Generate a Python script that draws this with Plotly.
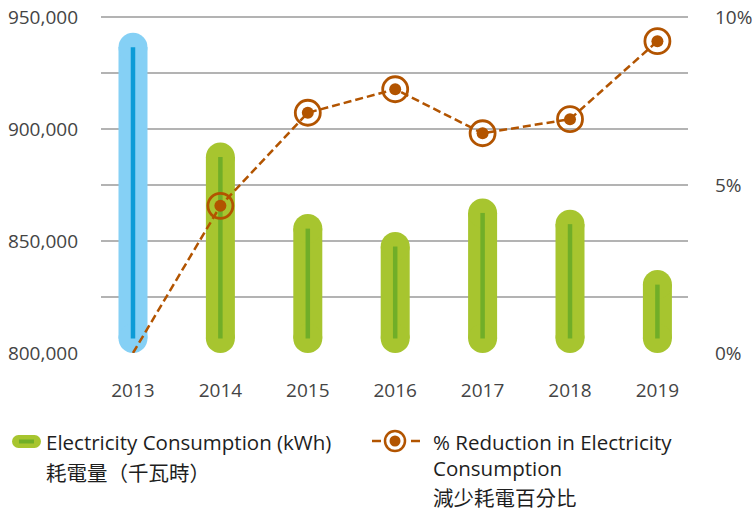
import plotly.graph_objects as go

# ---------------- data ----------------
years = ["2013", "2014", "2015", "2016", "2017", "2018", "2019"]
consumption_kwh = [943000, 894000, 862000, 854000, 869000, 864000, 837000]
reduction_pct = [0.0, 4.38, 7.15, 7.85, 6.54, 6.96, 9.28]
left_ticks = [800000, 850000, 900000, 950000]
right_ticks = [0, 5, 10]
right_tick_labels = ["0%", "5%", "10%"]

legend_bar_en = "Electricity Consumption (kWh)"
legend_bar_zh = "耗電量（千瓦時）"
legend_line_en1 = "% Reduction in Electricity"
legend_line_en2 = "Consumption"
legend_line_zh = "減少耗電百分比"

# ---------------- style ----------------
BLUE_OUT, BLUE_IN = "#85D0F5", "#0B9BD7"
GREEN_OUT, GREEN_IN = "#A7C52F", "#70AE28"
ORANGE = "#B25400"
GRID = "#B3B3B3"
TICK_COL = "#444444"
TXT = "#1e1e1e"
FONT = "Open Sans"
CJK = "Noto Sans CJK TC"

FIG_W, FIG_H = 754, 511
HEAD = 3                      # pixels of headroom above the 950,000 gridline
L, R, T, B = 101, 66, 17 - HEAD, 158
PW, PH = FIG_W - L - R, FIG_H - T - B
Y0, Y1 = 800000, 950000
PER_PX = (Y1 - Y0) / (PH - HEAD)
Y_TOP = Y1 + HEAD * PER_PX
BAR_W = 29
CAP = (BAR_W / 2) * PER_PX   # half-width of round cap in data units
P_TOP = 10 + HEAD * 10 / (PH - HEAD)

fig = go.Figure()

# rounded bars: thick line + circle caps
def bar_trace(idx, outer, inner):
    xs, ys = [], []
    for i in idx:
        xs += [years[i], years[i], None]
        ys += [Y0 + CAP, consumption_kwh[i] - CAP, None]
    fig.add_trace(go.Scatter(x=xs, y=ys, mode="lines+markers",
                             line=dict(color=outer, width=BAR_W),
                             marker=dict(color=outer, size=BAR_W, line=dict(width=0)),
                             hoverinfo="skip", showlegend=False))
    fig.add_trace(go.Scatter(x=xs, y=ys, mode="lines",
                             line=dict(color=inner, width=4.5),
                             hoverinfo="skip", showlegend=False))

bar_trace([0], BLUE_OUT, BLUE_IN)
bar_trace(list(range(1, len(years))), GREEN_OUT, GREEN_IN)

# dashed reduction line
fig.add_trace(go.Scatter(x=years, y=reduction_pct, yaxis="y2", mode="lines",
                         line=dict(color=ORANGE, width=2.5, dash="8px,4px"),
                         showlegend=False))
fig.add_trace(go.Scatter(x=years[1:], y=reduction_pct[1:], yaxis="y2", mode="markers",
                         marker=dict(symbol="circle-open", size=25, color=ORANGE,
                                     line=dict(width=2.8, color=ORANGE)),
                         showlegend=False))
fig.add_trace(go.Scatter(x=years[1:], y=reduction_pct[1:], yaxis="y2", mode="markers",
                         marker=dict(symbol="circle", size=12, color=ORANGE),
                         showlegend=False))

# ---------------- legend (drawn manually) ----------------
def px_x(px):
    return (px - L) / PW

def px_y(py):
    return (T + PH - py) / PH

shapes = []

def circle(cx, cy, r, fill=None, line_col=None, lw=0):
    shapes.append(dict(type="circle", xref="paper", yref="paper",
                       xsizemode="pixel", ysizemode="pixel",
                       xanchor=px_x(cx), yanchor=px_y(cy),
                       x0=-r, x1=r, y0=-r, y1=r,
                       fillcolor=fill if fill else "rgba(0,0,0,0)",
                       line=dict(color=line_col if line_col else "rgba(0,0,0,0)", width=lw)))

def hline(xa, xb, y, col, w):
    shapes.append(dict(type="line", xref="paper", yref="paper",
                       x0=px_x(xa), x1=px_x(xb), y0=px_y(y), y1=px_y(y),
                       line=dict(color=col, width=w)))

# pill icon
hline(18.5, 34.5, 441.5, GREEN_OUT, 13)
circle(18.5, 441.5, 6.5, fill=GREEN_OUT)
circle(34.5, 441.5, 6.5, fill=GREEN_OUT)
hline(19, 34, 441.5, GREEN_IN, 4)

# ring icon
hline(372, 381, 441, ORANGE, 2.5)
hline(411, 420, 441, ORANGE, 2.5)
circle(395, 441, 10, line_col=ORANGE, lw=2.5)
circle(395, 441, 5.5, fill=ORANGE)

annotations = []

def label(x, y, text, font_family, size):
    annotations.append(dict(xref="paper", yref="paper", x=px_x(x), y=px_y(y),
                            xanchor="left", yanchor="middle", showarrow=False,
                            text=text, font=dict(family=font_family, size=size, color=TXT)))

label(44, 442, legend_bar_en, FONT, 20.5)
label(44, 472, legend_bar_zh, CJK, 20.5)
label(431, 442, legend_line_en1, FONT, 20.5)
label(431, 468, legend_line_en2, FONT, 20.5)
label(431, 497, legend_line_zh, CJK, 20.5)

fig.update_layout(
    width=FIG_W, height=FIG_H,
    margin=dict(l=L, r=R, t=T, b=B, autoexpand=False),
    paper_bgcolor="white", plot_bgcolor="white",
    font=dict(family=FONT, size=19, color=TICK_COL),
    showlegend=False,
    xaxis=dict(type="category", categoryorder="array", categoryarray=years,
               range=[-0.366, 6.35], showgrid=False, zeroline=False, showline=False,
               ticks="", ticklabelstandoff=24, automargin=False,
               tickfont=dict(family=FONT, size=19, color=TICK_COL)),
    yaxis=dict(range=[Y0, Y_TOP], tickvals=left_ticks, tickformat=",d",
               showgrid=True, gridcolor=GRID, gridwidth=1.5, zeroline=False,
               showline=False, ticks="", ticklabelstandoff=22, automargin=False,
               minor=dict(dtick=25000, tick0=Y0, showgrid=True, gridcolor=GRID, gridwidth=1.5),
               tickfont=dict(family=FONT, size=19, color=TICK_COL)),
    yaxis2=dict(range=[0, P_TOP], overlaying="y", side="right", tickvals=right_ticks,
                ticktext=right_tick_labels, showgrid=False, zeroline=False,
                showline=False, ticks="", ticklabelstandoff=26, automargin=False,
                tickfont=dict(family=FONT, size=19, color=TICK_COL)),
    shapes=shapes,
    annotations=annotations,
)

fig.write_html("out.html", config={"displayModeBar": False},
               post_script="document.body.style.margin='0';document.body.style.overflow='hidden';")
